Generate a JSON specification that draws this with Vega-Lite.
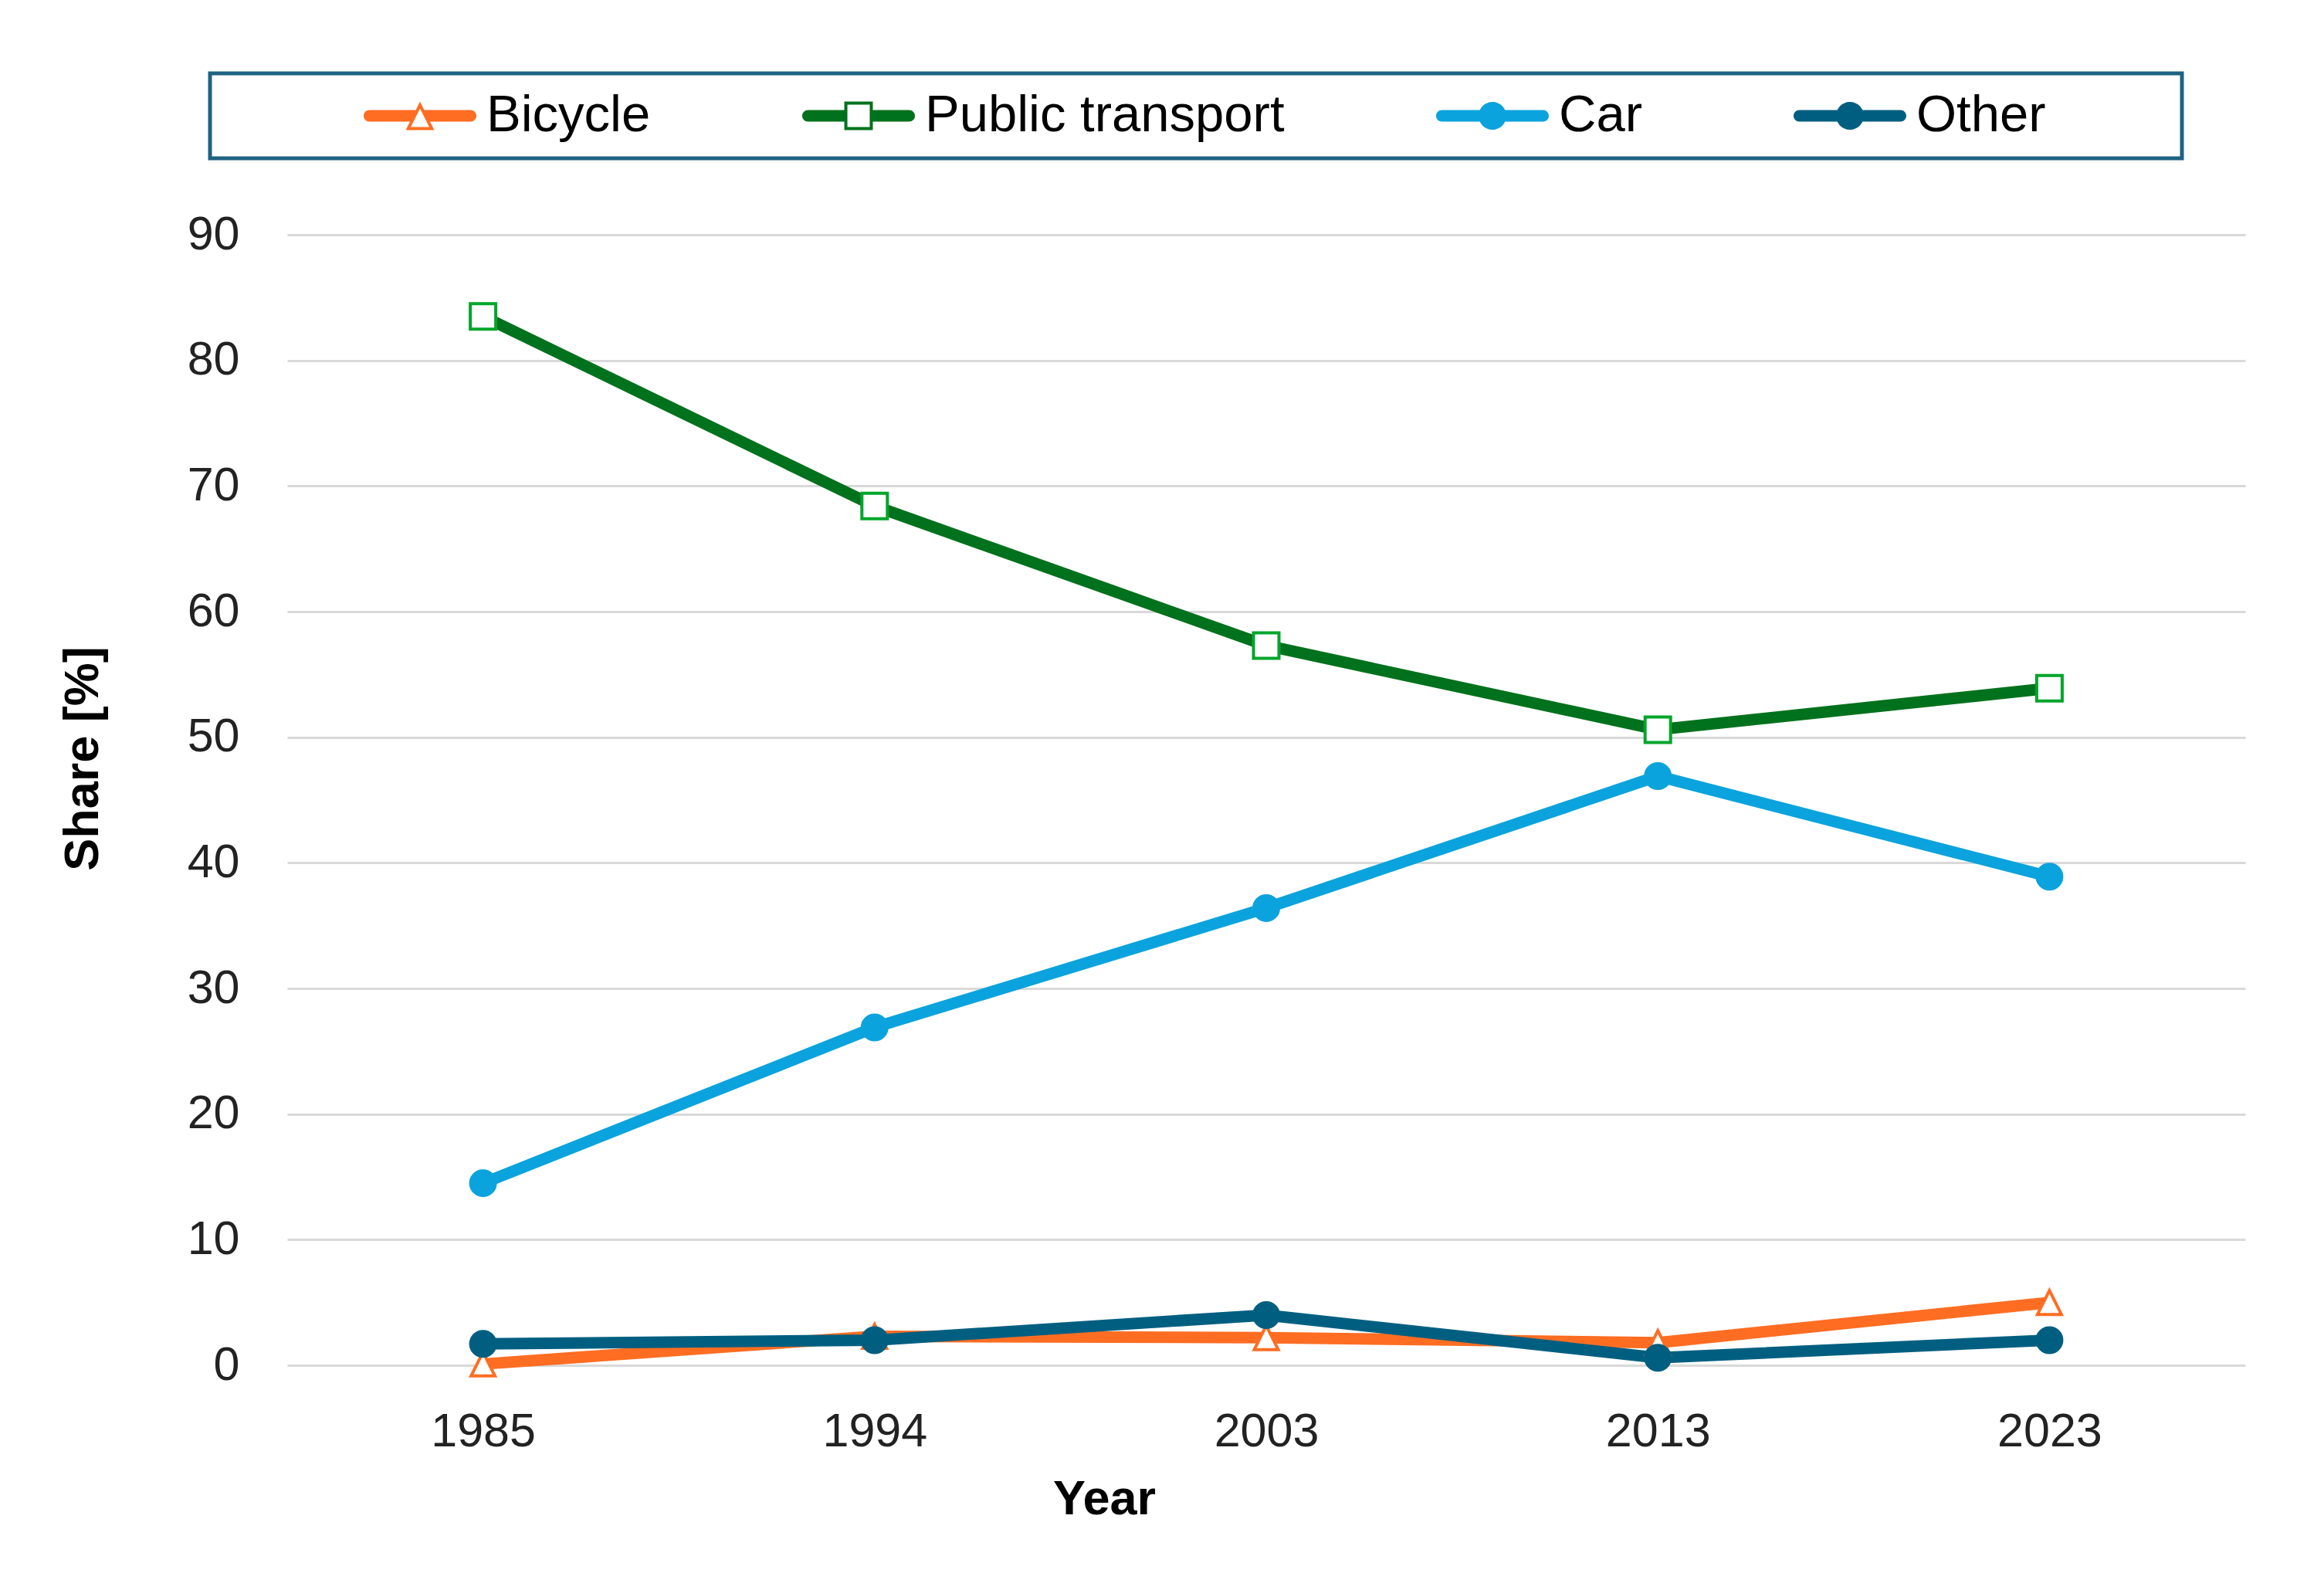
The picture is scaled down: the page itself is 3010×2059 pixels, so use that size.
{
  "$schema": "https://vega.github.io/schema/vega-lite/v6.json",
  "width": 2536,
  "height": 1464,
  "autosize": {"type": "none"},
  "padding": {"left": 372, "top": 304, "right": 102, "bottom": 291},
  "background": "white",
  "config": {"view": {"stroke": null}, "font": "Liberation Sans"},
  "data": {
    "values": [
      {"mode": "Bicycle", "year": 1985, "share": 0.1},
      {"mode": "Bicycle", "year": 1994, "share": 2.3},
      {"mode": "Bicycle", "year": 2003, "share": 2.2},
      {"mode": "Bicycle", "year": 2013, "share": 1.8},
      {"mode": "Bicycle", "year": 2023, "share": 5.0},
      {"mode": "Public transport", "year": 1985, "share": 83.5},
      {"mode": "Public transport", "year": 1994, "share": 68.4},
      {"mode": "Public transport", "year": 2003, "share": 57.3},
      {"mode": "Public transport", "year": 2013, "share": 50.6},
      {"mode": "Public transport", "year": 2023, "share": 53.9},
      {"mode": "Car", "year": 1985, "share": 14.5},
      {"mode": "Car", "year": 1994, "share": 26.9},
      {"mode": "Car", "year": 2003, "share": 36.4},
      {"mode": "Car", "year": 2013, "share": 46.9},
      {"mode": "Car", "year": 2023, "share": 38.9},
      {"mode": "Other", "year": 1985, "share": 1.7},
      {"mode": "Other", "year": 1994, "share": 2.0},
      {"mode": "Other", "year": 2003, "share": 4.0},
      {"mode": "Other", "year": 2013, "share": 0.6},
      {"mode": "Other", "year": 2023, "share": 2.0}
    ]
  },
  "encoding": {
    "x": {
      "field": "year",
      "type": "ordinal",
      "axis": {
        "title": "Year",
        "titleFont": "Liberation Sans",
        "titleFontWeight": "bold",
        "titleFontSize": 63,
        "titleColor": "#000000",
        "titleX": 1058,
        "titleY": 192,
        "titleBaseline": "alphabetic",
        "labelFont": "Liberation Sans",
        "labelFontSize": 61,
        "labelColor": "#222222",
        "labelAngle": 0,
        "labelPadding": 56,
        "ticks": false,
        "domain": false,
        "grid": false
      }
    },
    "y": {
      "field": "share",
      "type": "quantitative",
      "scale": {"domain": [0, 90], "nice": false, "zero": true},
      "axis": {
        "title": "Share [%]",
        "titleFont": "Liberation Sans",
        "titleFontWeight": "bold",
        "titleFontSize": 63,
        "titleColor": "#000000",
        "titleX": -246,
        "titleY": 678,
        "titleBaseline": "alphabetic",
        "titleAngle": 270,
        "titleAlign": "center",
        "values": [0, 10, 20, 30, 40, 50, 60, 70, 80, 90],
        "labelFont": "Liberation Sans",
        "labelFontSize": 61,
        "labelColor": "#222222",
        "labelPadding": 62,
        "ticks": false,
        "domain": false,
        "grid": true,
        "gridColor": "#D9D9D9",
        "gridWidth": 3
      }
    }
  },
  "layer": [
    {
      "mark": {"type": "line", "strokeWidth": 15, "strokeJoin": "round", "strokeCap": "round"},
      "encoding": {
        "color": {
          "field": "mode",
          "type": "nominal",
          "scale": {
            "domain": ["Bicycle", "Public transport", "Car", "Other"],
            "range": ["#FF6D22", "#00711C", "#0BA3DD", "#005F80"]
          },
          "legend": {
            "orient": "none",
            "legendX": -100,
            "legendY": -209,
            "direction": "horizontal",
            "columns": 4,
            "title": " ",
            "titleOrient": "left",
            "titleFontSize": 1,
            "titlePadding": 177,
            "labelFont": "Liberation Sans",
            "labelFontSize": 67,
            "labelColor": "#000000",
            "labelOffset": 13,
            "labelLimit": 1000,
            "labelBaseline": "middle",
            "columnPadding": 196,
            "padding": 22,
            "strokeColor": "#1E6283",
            "fillColor": "#FFFFFF",
            "symbolSize": 21316,
            "symbolStrokeWidth": 0,
            "symbolOpacity": 1,
            "encode": {
              "legend": {
                "update": {
                  "strokeWidth": {"value": 5}
                }
              },
              "labels": {
                "update": {
                  "y": {"value": 33}
                }
              },
              "symbols": {
                "update": {
                  "y": {"value": 33},
                  "shape": {"signal": "datum.value === 'Bicycle' ? 'M-0.897,-0.103 L-0.075,-0.103 L-0.178,0.103 L-0.897,0.103 A0.103,0.103 0 0 1 -0.897,-0.103 Z M0.075,-0.103 L0.897,-0.103 A0.103,0.103 0 0 1 0.897,0.103 L0.178,0.103 Z M0,-0.253 L0.253,0.253 L-0.253,0.253 Z M0,-0.13 L-0.164,0.198 L0.164,0.198 Z' : datum.value === 'Public transport' ? 'M-0.897,-0.103 L-0.253,-0.103 L-0.253,0.103 L-0.897,0.103 A0.103,0.103 0 0 1 -0.897,-0.103 Z M0.253,-0.103 L0.897,-0.103 A0.103,0.103 0 0 1 0.897,0.103 L0.253,0.103 Z M-0.253,-0.253 L0.253,-0.253 L0.253,0.253 L-0.253,0.253 Z M-0.198,-0.198 L-0.198,0.198 L0.198,0.198 L0.198,-0.198 Z' : datum.value === 'Car' ? 'M-0.897,-0.103 L0.897,-0.103 A0.103,0.103 0 0 1 0.897,0.103 L-0.897,0.103 A0.103,0.103 0 0 1 -0.897,-0.103 Z M-0.247,0 A0.247,0.247 0 1 1 0.247,0 A0.247,0.247 0 1 1 -0.247,0 Z' : 'M-0.897,-0.103 L0.897,-0.103 A0.103,0.103 0 0 1 0.897,0.103 L-0.897,0.103 A0.103,0.103 0 0 1 -0.897,-0.103 Z M-0.247,0 A0.247,0.247 0 1 1 0.247,0 A0.247,0.247 0 1 1 -0.247,0 Z M5.58,0 L5.58,0 Z'"},
                  "fill": {"scale": "color", "field": "value"},
                  "stroke": {"value": "transparent"},
                  "strokeWidth": {"value": 0},
                  "opacity": {"value": 1}
                }
              }
            }
          }
        }
      }
    },
    {
      "transform": [{"filter": {"field": "mode", "equal": "Bicycle"}}],
      "mark": {"type": "point", "shape": "M0,-1 L1,1 L-1,1 Z", "size": 961, "filled": true, "fill": "#FFFFFF", "stroke": "#FF6D22", "strokeWidth": 4, "opacity": 1}
    },
    {
      "transform": [{"filter": {"field": "mode", "equal": "Public transport"}}],
      "mark": {"type": "point", "shape": "square", "size": 1089, "filled": true, "fill": "#FFFFFF", "stroke": "#00A52A", "strokeWidth": 4, "opacity": 1}
    },
    {
      "transform": [{"filter": {"field": "mode", "equal": "Car"}}],
      "mark": {"type": "point", "shape": "circle", "size": 1024, "filled": true, "fill": "#0BA3DD", "stroke": "#0BA3DD", "strokeWidth": 4, "opacity": 1}
    },
    {
      "transform": [{"filter": {"field": "mode", "equal": "Other"}}],
      "mark": {"type": "point", "shape": "circle", "size": 1024, "filled": true, "fill": "#005F80", "stroke": "#005F80", "strokeWidth": 4, "opacity": 1}
    }
  ]
}
